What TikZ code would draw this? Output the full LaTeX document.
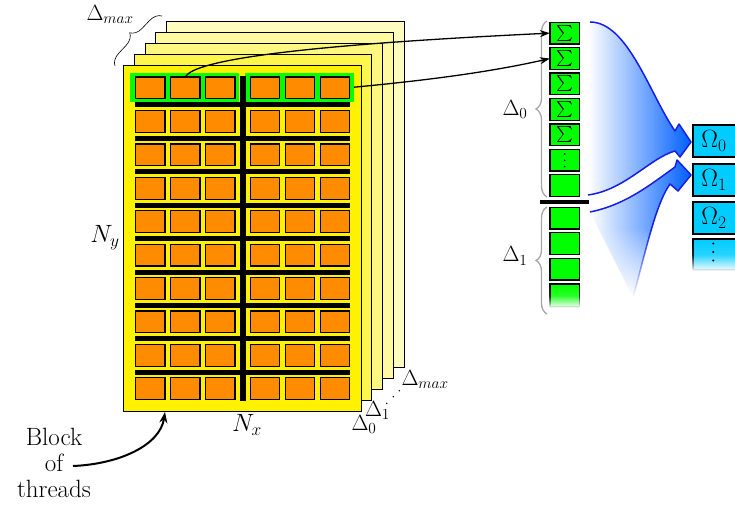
\documentclass[tikz,border=0pt]{standalone}
\usepackage{fix-cm}
\usepackage{graphicx}
\usetikzlibrary{arrows.meta,decorations.pathreplacing,fadings}
\definecolor{cellorange}{RGB}{255,140,0}
\definecolor{hlgreen}{RGB}{0,255,0}
\definecolor{omcyan}{RGB}{0,204,255}
\definecolor{fillblue}{RGB}{0,95,255}
\definecolor{edgeblue}{RGB}{20,30,230}
\newcommand\bigfnt{\fontsize{25}{26.3}\selectfont}
\newcommand\medfnt{\fontsize{22}{25}\selectfont}
\newcommand\sumsym{\scalebox{1.6}{$\textstyle\sum$}}
\tikzfading[name=fadelow, top color=transparent!0, bottom color=transparent!100, middle color=transparent!15]
\tikzfading[name=fadebottom, top color=transparent!0, bottom color=transparent!100, middle color=transparent!0]
\begin{document}
\begin{tikzpicture}[x=1pt,y=-1pt,
  sheet/.style={draw=black,line width=0.8pt,minimum width=237.7pt,minimum height=345.2pt,inner sep=0pt,outer sep=0pt,anchor=north west},
  cell/.style={draw=black,line width=1.2pt,fill=cellorange,minimum width=29.3pt,minimum height=21.8pt,inner sep=0pt,outer sep=0pt,anchor=north west},
  hl/.style={fill=hlgreen,minimum height=29pt,inner sep=0pt,outer sep=0pt,anchor=north west},
  gcell/.style={draw=black,line width=1.3pt,fill=hlgreen,minimum width=29.4pt,minimum height=21.7pt,inner sep=0pt,outer sep=0pt,anchor=north west},
  ombox/.style={draw=black,line width=2pt,fill=omcyan,minimum height=32pt,text width=64pt,inner xsep=8pt,inner ysep=0pt,outer sep=0pt,align=left,anchor=north west,font=\bigfnt},
  lbl/.style={inner sep=0pt,outer sep=0pt},
  bracegray/.style={decorate,decoration={brace,amplitude=11pt},draw=gray!70,line width=1.3pt},
  conn/.style={-{Stealth[length=10pt,width=7pt]},line width=1.3pt},
  barrow/.style={-{Stealth[length=11pt,width=8pt]},line width=2pt},
  dot/.style={circle,fill=black,inner sep=0pt,minimum size=1.8pt}
]
\useasboundingbox (0,0) rectangle (735,508);
\clip (0,0) rectangle (735,508);

% stacked sheets
\foreach \k/\col in {4/yellow!25,3/yellow!37,2/yellow!50,1/yellow!70,0/yellow}
  \node[sheet,fill=\col] (s\k) at ({123.4+10.75*\k},{65.9-11*\k}) {};

% highlighted first row
\node[hl,minimum width=109.3pt] (gL) at (130,72.7) {};
\node[hl,minimum width=109pt] (gR) at (245,72.7) {};

% black separators
\foreach \r in {1,...,9}
  \fill (135,{76.5+33.4*\r-7.4}) rectangle (350,{76.5+33.4*\r-2.4});
\fill (240.3,76) rectangle (245.8,401);

% threads
\foreach \r in {0,...,9}
  \foreach \c/\x in {0/135.6,1/170.6,2/205.6,3/250.1,4/285.1,5/320.1}
    \node[cell] (c\r\c) at (\x,{77.1+33.4*\r}) {};

% sigma column (Delta_0)
\foreach \j in {0,...,4}
  \node[gcell] (sig\j) at (549.9,{22.3+25.4*\j}) {\sumsym};
\node[gcell] (sig5) at (549.9,149.3) {};
\node[gcell] (sig6) at (549.9,174.7) {};
\node[dot] (gd1) at (564.6,154) {};
\node[dot] (gd2) at (564.6,160.3) {};
\node[dot] (gd3) at (564.6,166.6) {};
\fill (540,200.2) rectangle (589,203.8);

% Delta_1 column
\foreach \j in {0,1,2}
  \node[gcell] (del\j) at (549.9,{207.3+25.5*\j}) {};
\path[fill=hlgreen,draw=black,line width=1.3pt,path fading=fadelow] (549.9,283.9) rectangle (579.3,307);

% braces
\draw[bracegray] (547,197) -- (547,21);
\draw[bracegray] (547,314) -- (547,207);
\draw[decorate,decoration={brace,amplitude=12pt},line width=0.6pt] (115,66) -- (162,16);

% blue arrows
\shade[left color=white,right color=fillblue] (590,22) .. controls (628,22) and (650,95) .. (675,131) -- (679,124) -- (691,142) -- (680,157) -- (675,151) .. controls (650,158) and (625,190) .. (588,195) -- cycle;
\draw[edgeblue,line width=1.5pt,line join=round] (590,22) .. controls (628,22) and (650,95) .. (675,131) -- (679,124) -- (691,142) -- (680,157) -- (675,151) .. controls (650,158) and (625,190) .. (588,195);
\shade[left color=white,right color=fillblue,path fading=fadebottom] (590,212) .. controls (625,205) and (650,185) .. (675,167) -- (677,160) -- (691,175) -- (678,191) -- (670,184) .. controls (655,205) and (645,255) .. (633,297) -- cycle;
\draw[edgeblue,line width=1.5pt,line join=round,path fading=fadebottom] (590,212) .. controls (625,205) and (650,185) .. (675,167) -- (677,160) -- (691,175) -- (678,191) -- (670,184) .. controls (655,205) and (645,255) .. (633,297);

% Omega boxes
\foreach \i in {0,1,2}
  \node[ombox] (om\i) at (693.3,{125.3+38.3*\i}) {$\Omega_{\i}$};
\path[fill=omcyan,draw=black,line width=2pt,path fading=fadelow] (693.3,239.3) rectangle (770,270);
\node[dot,minimum size=2.2pt] (od1) at (713.3,243.5) {};
\node[dot,minimum size=2.2pt] (od2) at (713.3,252) {};
\node[dot,minimum size=2.2pt] (od3) at (713.3,260.5) {};

% labels
\node[lbl,font=\medfnt,anchor=base west] (dmaxtop) at (86.5,20.7) {$\Delta_{max}$};
\node[lbl,font=\bigfnt,anchor=base east] (ny) at (119.5,242.7) {$N_y$};
\node[lbl,font=\bigfnt,anchor=base west] (nx) at (232,431.7) {$N_x$};
\node[lbl,font=\medfnt,anchor=base west] (d0) at (351.5,430.5) {$\Delta_0$};
\node[lbl,font=\medfnt,anchor=base west] (d1) at (365,416.5) {$\Delta_1$};
\node[lbl,font=\medfnt,anchor=base west] (dmaxb) at (401.5,385.5) {$\Delta_{max}$};
\node[dot,minimum size=1.6pt] (bd1) at (386.7,403.3) {};
\node[dot,minimum size=1.6pt] (bd2) at (393.3,396.7) {};
\node[dot,minimum size=1.6pt] (bd3) at (399.3,390.7) {};
\node[lbl,font=\medfnt,anchor=base west] (dl0) at (502.5,115) {$\Delta_0$};
\node[lbl,font=\medfnt,anchor=base west] (dl1) at (502.5,261.7) {$\Delta_1$};
\node[lbl,font=\bigfnt,align=center] (block) at (54,463) {Block\\of\\threads};

% connectors
\draw[conn] (c01.north) .. controls +(8,-17) and (300,45) .. (sig0.west);
\draw[conn] (gR.east) .. controls (430,80) and (490,72) .. (sig1.west);
\coordinate (bstart) at (73,466);
\coordinate (btip) at (165,412);
\draw[barrow] (bstart) .. controls (120,464) and (160,445) .. (btip);
\end{tikzpicture}
\end{document}
